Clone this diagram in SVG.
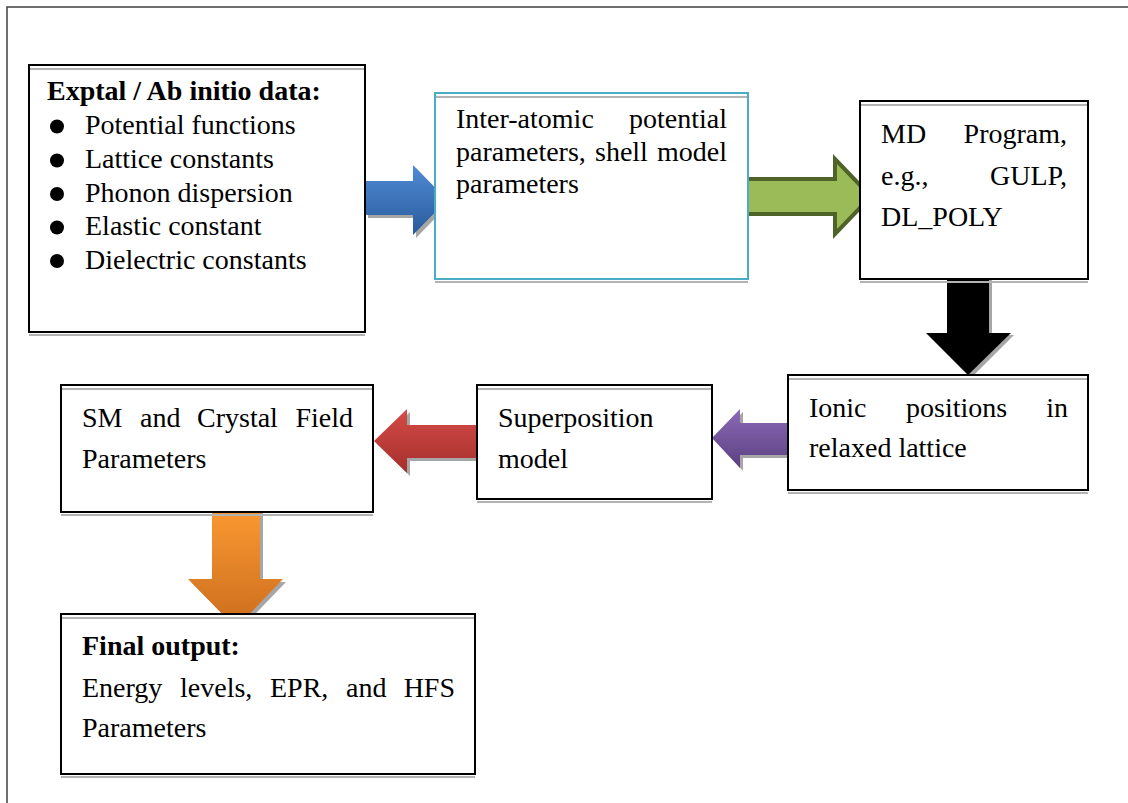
<svg xmlns="http://www.w3.org/2000/svg" width="1128" height="803" viewBox="0 0 1128 803">
<defs>
<linearGradient id="gBlue" x1="0" y1="0" x2="0" y2="1"><stop offset="0" stop-color="#4F8BD6"/><stop offset="1" stop-color="#2A5A9A"/></linearGradient>
<linearGradient id="gRed" x1="0" y1="0" x2="0" y2="1"><stop offset="0" stop-color="#D44C48"/><stop offset="1" stop-color="#A52E2C"/></linearGradient>
<linearGradient id="gPurple" x1="0" y1="0" x2="0" y2="1"><stop offset="0" stop-color="#8B6AB6"/><stop offset="1" stop-color="#5C4082"/></linearGradient>
<linearGradient id="gOrange" x1="0" y1="0" x2="0" y2="1"><stop offset="0" stop-color="#F99830"/><stop offset="1" stop-color="#CB6C1E"/></linearGradient>
</defs>
<style>
.box{fill:#fff;stroke:#000;stroke-width:2}
.teal{fill:#fff;stroke:#4BACC6;stroke-width:2}
.gl{stroke:#B3B3B3;stroke-width:2}
text{font-family:'Liberation Serif','Times New Roman',serif;font-size:28px;fill:#000}
.b{font-weight:bold}
.e{text-anchor:end}
.sh{fill:#A6A6A6}
.frame{stroke:#404040;stroke-width:1.5;fill:none}
</style>
<rect width="1128" height="803" fill="#fff"/>
<path class="frame" d="M7,803 V7 H1128"/>

<g id="connectors">
  <polygon class="sh" points="368,184 416,184 416,168 450,203 416,238 416,218 368,218"/>
  <polygon fill="url(#gBlue)" points="365,181 413,181 413,165 447,200 413,235 413,215 365,215"/>
  <polygon fill="#9BBB59" stroke="#4F6228" stroke-width="4" stroke-linejoin="miter" points="747,179 835,179 835,159 871,196.5 835,234 835,214 747,214"/>
  <polygon class="sh" points="950,279 992,279 992,335 1014,335 971,378 929,335 950,335"/>
  <polygon fill="#000" points="947,279 989,279 989,333 1011,333 968,375 926,333 947,333"/>
  <polygon class="sh" points="788,426 743,426 743,412 715,440 743,471 743,458 788,458"/>
  <polygon fill="url(#gPurple)" points="788,423 740,423 740,409 712,438 740,468 740,455 788,455"/>
  <polygon class="sh" points="477,428 410,428 410,412 377,444 410,476 410,461 477,461"/>
  <polygon fill="url(#gRed)" points="477,425 407,425 407,409 374,441 407,473 407,458 477,458"/>
  <polygon class="sh" points="215,512 263,512 263,582 286,582 239,631 191,582 215,582"/>
  <polygon fill="url(#gOrange)" points="212,512 260,512 260,579 283,579 236,628 188,579 212,579"/>
</g>

<g id="node-exptal">
  <line class="gl" x1="29" y1="335" x2="365" y2="335"/>
  <rect class="box" x="29" y="65" width="336" height="267"/>
  <line class="gl" x1="30" y1="69" x2="364" y2="69"/>
  <text class="b" x="47" y="100">Exptal / Ab initio data:</text>
  <circle cx="57" cy="126.5" r="7"/>
  <circle cx="57" cy="160.5" r="7"/>
  <circle cx="57" cy="194" r="7"/>
  <circle cx="57" cy="227.5" r="7"/>
  <circle cx="57" cy="261" r="7"/>
  <text x="85" y="134">Potential functions</text>
  <text x="85" y="168">Lattice constants</text>
  <text x="85" y="201.5">Phonon dispersion</text>
  <text x="85" y="235">Elastic constant</text>
  <text x="85" y="268.5">Dielectric constants</text>
</g>

<g id="node-interatomic">
  <line class="gl" x1="435" y1="282" x2="748" y2="282"/>
  <rect class="teal" x="435" y="93" width="313" height="186"/>
  <line class="gl" x1="436" y1="97" x2="747" y2="97"/>
  <text x="456" y="128">Inter-atomic</text>
  <text class="e" x="727" y="128">potential</text>
  <text x="456" y="161">parameters,</text>
  <text x="595" y="161">shell</text>
  <text class="e" x="727" y="161">model</text>
  <text x="456" y="193">parameters</text>
</g>

<g id="node-md">
  <line class="gl" x1="860" y1="282" x2="1088" y2="282"/>
  <rect class="box" x="860" y="101" width="228" height="178"/>
  <line class="gl" x1="861" y1="105" x2="1087" y2="105"/>
  <text x="881" y="143">MD</text>
  <text class="e" x="1067" y="143">Program,</text>
  <text x="881" y="185">e.g.,</text>
  <text class="e" x="1067" y="185">GULP,</text>
  <text x="881" y="226">DL_POLY</text>
</g>

<g id="node-ionic">
  <line class="gl" x1="788" y1="493" x2="1088" y2="493"/>
  <rect class="box" x="788" y="375" width="300" height="115"/>
  <line class="gl" x1="789" y1="379" x2="1087" y2="379"/>
  <text x="809" y="417">Ionic</text>
  <text x="906" y="417">positions</text>
  <text class="e" x="1068" y="417">in</text>
  <text x="809" y="457">relaxed lattice</text>
</g>

<g id="node-superposition">
  <line class="gl" x1="477" y1="502" x2="712" y2="502"/>
  <rect class="box" x="477" y="385" width="235" height="114"/>
  <line class="gl" x1="478" y1="389" x2="711" y2="389"/>
  <text x="498" y="427">Superposition</text>
  <text x="498" y="468">model</text>
</g>

<g id="node-sm">
  <line class="gl" x1="61" y1="515" x2="373" y2="515"/>
  <rect class="box" x="61" y="385" width="312" height="127"/>
  <line class="gl" x1="62" y1="389" x2="372" y2="389"/>
  <text x="82" y="427">SM</text>
  <text x="140" y="427">and</text>
  <text x="197" y="427">Crystal</text>
  <text class="e" x="353" y="427">Field</text>
  <text x="82" y="468">Parameters</text>
</g>

<g id="node-final">
  <line class="gl" x1="61" y1="777" x2="475" y2="777"/>
  <rect class="box" x="61" y="614" width="414" height="160"/>
  <line class="gl" x1="62" y1="618" x2="474" y2="618"/>
  <text class="b" x="82" y="655">Final output:</text>
  <text x="82" y="697">Energy</text>
  <text x="180" y="697">levels,</text>
  <text x="270" y="697">EPR,</text>
  <text x="346" y="697">and</text>
  <text class="e" x="455" y="697">HFS</text>
  <text x="82" y="737">Parameters</text>
</g>
</svg>
